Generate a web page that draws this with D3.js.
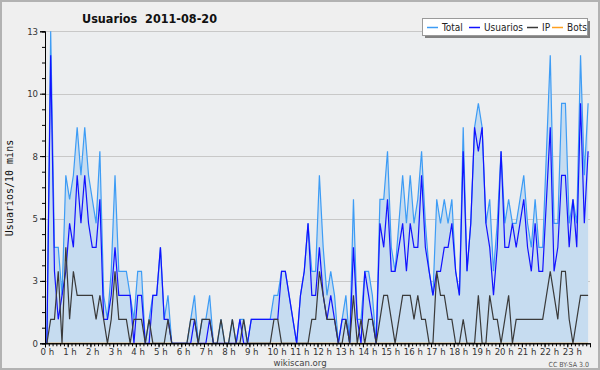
<!DOCTYPE html>
<html>
<head>
<meta charset="utf-8">
<script src="https://cdn.jsdelivr.net/npm/d3@7/dist/d3.min.js"></script>
<style>
  html, body { margin: 0; padding: 0; background: #efefef; }
  svg { display: block; }
  text { font-family: "DejaVu Sans Condensed", "DejaVu Sans", sans-serif; }
</style>
</head>
<body>
<svg id="chart" width="600" height="370"></svg>
<script>
// hour labels on the x axis (one slot = 10 minutes, 144 slots per day)
const hourLabels = ['0 h','1 h','2 h','3 h','4 h','5 h','6 h','7 h','8 h','9 h','10 h','11 h',
  '12 h','13 h','14 h','15 h','16 h','17 h','18 h','19 h','20 h','21 h','22 h','23 h'];

const total = [
  0,13,4,4,2,7,6,7,9,7, 9,7,6,5,8,2,1,3,7,3, 3,3,2,1,3,3,0,1,2,2,
  4,1,2,0,0,0,0,0,1,2, 0,1,1,2,0,0,1,0,0,1, 0,1,1,0,1,1,1,1,1,1,
  2,2,3,3,2,1,0,2,3,5, 3,3,7,4,2,3,2,0,1,2, 0,6,1,1,3,3,2,0,6,6,
  8,4,3,5,7,5,7,5,6,8, 5,3,2,6,5,6,5,6,3,2, 9,3,5,9,10,9,5,6,3,5,
  8,5,6,5,5,6,7,5,4,6, 4,4,8,12,5,5,10,10,5,6, 5,12,7,10
];
const usuarios = [
  0,12,3,1,2,3,5,4,7,5, 7,5,4,4,6,1,1,2,4,2, 2,2,2,0,2,2,0,0,2,2,
  4,1,1,0,0,0,0,0,0,1, 0,0,0,1,0,0,0,0,0,0, 0,1,0,0,1,1,1,1,1,1,
  1,1,3,3,2,1,0,2,3,5, 2,2,4,2,1,2,1,0,1,1, 0,4,1,0,3,2,1,0,5,4,
  6,3,3,4,5,3,5,4,4,7, 4,3,2,3,3,4,4,5,3,2, 8,3,5,9,8,9,5,4,2,4,
  8,4,4,5,4,5,6,4,3,5, 3,3,6,9,3,4,7,7,4,6, 4,10,5,8
];
const ip = [
  0,1,1,3,0,4,1,3,2,2, 2,2,2,1,2,1,0,1,3,1, 1,1,0,1,1,1,0,1,0,0,
  0,0,1,0,0,0,0,0,1,1, 0,1,1,1,0,0,1,0,0,1, 0,0,1,0,0,0,0,0,0,0,
  1,1,0,0,0,0,0,0,0,0, 1,1,3,2,1,1,1,0,0,1, 0,2,0,1,0,1,1,0,1,2,
  2,1,0,1,2,2,2,1,2,1, 1,0,0,3,2,2,1,1,0,0, 1,0,0,0,2,0,0,2,1,1,
  0,1,2,0,1,1,1,1,1,1, 1,1,2,3,2,1,3,3,1,0, 1,2,2,2
];
const bots = [
  0,0,0,0,0,0,0,0,0,0, 0,0,0,0,0,0,0,0,0,0, 0,0,0,0,0,0,0,0,0,0,
  0,0,0,0,0,0,0,0,0,0, 0,0,0,0,0,0,0,0,0,0, 0,0,0,0,0,0,0,0,0,0,
  0,0,0,0,0,0,0,0,0,0, 0,0,0,0,0,0,0,0,0,0, 0,0,0,0,0,0,0,0,0,0,
  0,0,0,0,0,0,0,0,0,0, 0,0,0,0,0,0,0,0,0,0, 0,0,0,0,0,0,0,0,0,0,
  0,0,0,0,0,0,0,0,0,0, 0,0,0,0,0,0,0,0,0,0, 0,0,0,0
];

const seriesNames = ['Total', 'Usuarios', 'IP', 'Bots'];
const seriesColors = ['#3d9cf5', '#1212ff', '#3a3a3a', '#ffa020'];

// y axis: labelled gridlines every 2.6, shown rounded
const yTickValues = [0, 2.6, 5.2, 7.8, 10.4, 13];
const yTickLabels = ['0', '3', '5', '8', '10', '13'];

const svg = d3.select('#chart');

const plot = { left: 45, right: 590, top: 31.3, bottom: 343.3 };
const x = d3.scaleLinear().domain([0, 144]).range([plot.left, plot.right]);
const y = d3.scaleLinear().domain([0, 13]).range([plot.bottom, plot.top]);

// outer frame
svg.append('rect')
  .attr('x', 1).attr('y', 1).attr('width', 598).attr('height', 368)
  .attr('fill', '#efefef').attr('stroke', '#b2b2b2').attr('stroke-width', 2);

// plot background
svg.append('rect')
  .attr('x', plot.left).attr('y', plot.top)
  .attr('width', plot.right - plot.left).attr('height', plot.bottom - plot.top)
  .attr('fill', '#eceef0');

// gridlines
svg.append('g')
  .selectAll('line')
  .data(yTickValues.slice(1))
  .join('line')
  .attr('x1', plot.left).attr('x2', plot.right)
  .attr('y1', d => Math.round(y(d)) + 0.5).attr('y2', d => Math.round(y(d)) + 0.5)
  .attr('stroke', '#c8c8c8').attr('stroke-width', 1);

const xPos = (d, i) => x(i + 0.5);

// total area
svg.append('path')
  .datum(total)
  .attr('fill', '#c6dcf0')
  .attr('d', d3.area().x(xPos).y0(plot.bottom).y1(d => y(d)));

const line = d3.line().x(xPos).y(d => y(d));
const series = [total, usuarios, ip, bots];

// bots underneath, then total, usuarios, ip on top
[3, 0, 1, 2].forEach(k => {
  svg.append('path')
    .datum(series[k])
    .attr('fill', 'none')
    .attr('stroke', seriesColors[k])
    .attr('stroke-width', 1.2)
    .attr('d', line);
});

// y axis
const yMinor = d3.axisLeft(y).tickValues(d3.range(0, 13.01, 0.65)).tickSize(3).tickFormat('');
const yMajor = d3.axisLeft(y).tickValues(yTickValues).tickSize(5)
  .tickFormat((d, i) => yTickLabels[i]);

const gyMinor = svg.append('g').attr('transform', `translate(${plot.left},0)`).call(yMinor);
const gy = svg.append('g').attr('transform', `translate(${plot.left},0)`).call(yMajor);
[gyMinor, gy].forEach(g => {
  g.select('.domain').attr('stroke', '#000');
  g.selectAll('.tick line').attr('stroke', '#000');
});
gy.selectAll('.tick text')
  .attr('font-family', null)
  .attr('font-size', 9.5).attr('fill', '#333').attr('x', -7).attr('dy', '0.32em');

// x axis
const xMinor = d3.axisBottom(x).tickValues(d3.range(0, 145)).tickSize(3).tickFormat('');
const xMajor = d3.axisBottom(x).tickValues(d3.range(0, 144, 6)).tickSize(4)
  .tickFormat((d, i) => hourLabels[i]);

const gxMinor = svg.append('g').attr('transform', `translate(0,${plot.bottom})`).call(xMinor);
const gx = svg.append('g').attr('transform', `translate(0,${plot.bottom})`).call(xMajor);
[gxMinor, gx].forEach(g => {
  g.select('.domain').attr('stroke', '#000');
  g.selectAll('.tick line').attr('stroke', '#000');
});
gx.selectAll('.tick text')
  .attr('font-family', null)
  .attr('font-size', 9.5).attr('fill', '#333')
  .attr('text-anchor', 'start').attr('x', -5).attr('y', 5).attr('dy', '0.71em');

// title
svg.append('text')
  .attr('x', 82).attr('y', 23)
  .attr('font-size', 12.5).attr('font-weight', 'bold').attr('fill', '#111')
  .attr('xml:space', 'preserve')
  .text('Usuarios  2011-08-20');

// y label
svg.append('text')
  .attr('transform', 'translate(13,188) rotate(-90)')
  .attr('text-anchor', 'middle')
  .style('font-family', '"DejaVu Sans Mono", monospace')
  .attr('font-size', 10).attr('fill', '#111')
  .text('Usuarios/10 mins');

// footer
svg.append('text')
  .attr('x', 300).attr('y', 366).attr('text-anchor', 'middle')
  .attr('font-size', 9.5).attr('fill', '#444')
  .text('wikiscan.org');
svg.append('text')
  .attr('x', 589).attr('y', 367).attr('text-anchor', 'end')
  .attr('font-size', 7).attr('fill', '#555')
  .text('CC BY-SA 3.0');

// legend
const legend = svg.append('g').attr('transform', 'translate(422,18)');
legend.append('rect').attr('x', 3).attr('y', 3).attr('width', 165).attr('height', 17).attr('fill', '#808080');
legend.append('rect').attr('x', 0.5).attr('y', 0.5).attr('width', 165).attr('height', 17)
  .attr('fill', '#fff').attr('stroke', '#9a9a9a');

const legendOffsets = [5, 47, 105, 130];
seriesNames.forEach((name, i) => {
  const item = legend.append('g').attr('transform', `translate(${legendOffsets[i]},0)`);
  item.append('line')
    .attr('x1', 0).attr('x2', 11).attr('y1', 9.5).attr('y2', 9.5)
    .attr('stroke', seriesColors[i]).attr('stroke-width', 1.5);
  item.append('text')
    .attr('x', 15).attr('y', 13)
    .attr('font-size', 10).attr('fill', '#222')
    .text(name);
});
</script>
</body>
</html>
